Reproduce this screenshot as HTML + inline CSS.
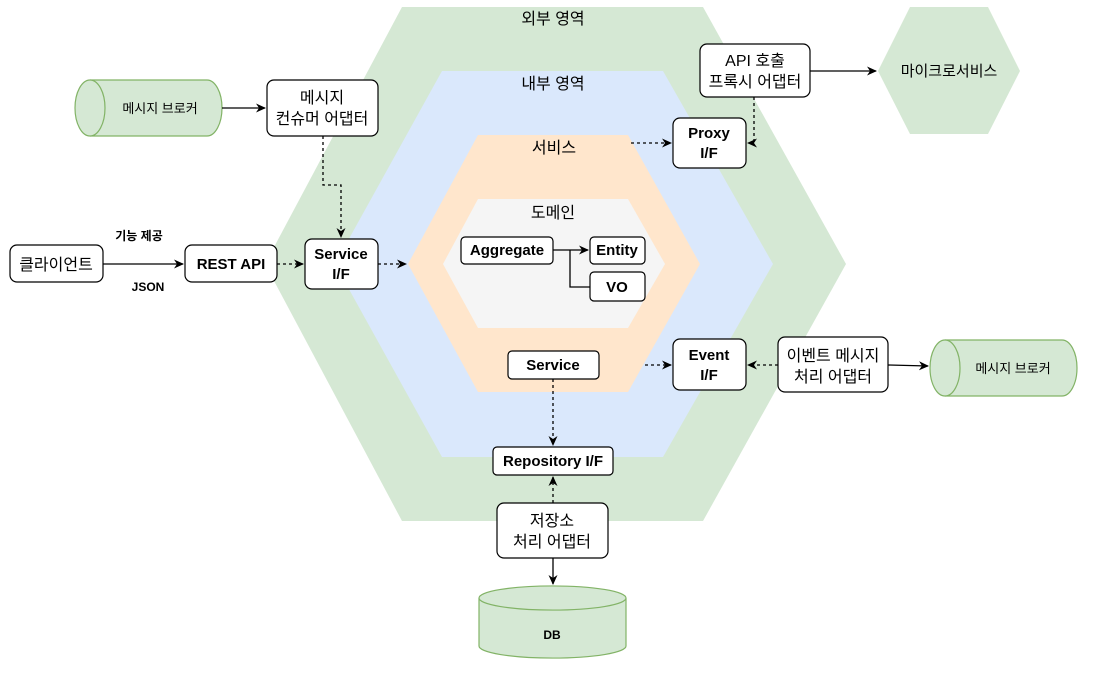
<!DOCTYPE html>
<html><head><meta charset="utf-8"><style>
html,body{margin:0;padding:0;background:#fff}
svg text{font-family:"Liberation Sans","Noto Sans CJK KR",sans-serif;fill:#000}
</style></head><body>
<svg width="1097" height="669" viewBox="0 0 1097 669" xmlns="http://www.w3.org/2000/svg">
<defs>
<marker id="a" markerWidth="12" markerHeight="12" refX="9" refY="6" orient="auto" markerUnits="userSpaceOnUse"><path d="M0,1.5 L10,6 L0,10.5 L3,6 z" fill="#000"/></marker>
</defs>
<polygon points="402,7 703,7 846,264 703,521 402,521 265,264" fill="#d5e8d4"/>
<polygon points="442,71 663,71 773,264 663,457 442,457 335,264" fill="#dae8fc"/>
<polygon points="478,135 628,135 700,264 628,392 478,392 408,264" fill="#ffe6cc"/>
<polygon points="478,199 628,199 665,264 628,328 478,328 443,264" fill="#f5f5f5"/>
<polygon points="910,7 988,7 1020,71 988,134 910,134 878,71" fill="#d5e8d4"/>
<text x="553" y="24" font-size="16" text-anchor="middle">외부 영역</text>
<text x="553" y="89" font-size="16" text-anchor="middle">내부 영역</text>
<text x="554" y="153" font-size="16" text-anchor="middle">서비스</text>
<text x="553" y="218" font-size="16" text-anchor="middle">도메인</text>
<text x="949" y="76" font-size="15" text-anchor="middle">마이크로서비스</text>

<g fill="#d5e8d4" stroke="#82b366" stroke-width="1.2">
<path d="M90,80 L207,80 A15,28 0 0 1 207,136 L90,136 A15,28 0 0 1 90,80 z"/>
<path d="M90,80 A15,28 0 0 1 90,136"/>
<path d="M945,340 L1062,340 A15,28 0 0 1 1062,396 L945,396 A15,28 0 0 1 945,340 z"/>
<path d="M945,340 A15,28 0 0 1 945,396"/>
<path d="M479,598 A73,12 0 0 1 626,598 L626,646 A73,12 0 0 1 479,646 z"/>
<path d="M479,598 A73,12 0 0 0 626,598"/>
</g>
<text x="160" y="113" font-size="13" text-anchor="middle">메시지 브로커</text>
<text x="1013" y="373" font-size="13" text-anchor="middle">메시지 브로커</text>
<text x="552" y="639" font-size="12" font-weight="bold" text-anchor="middle">DB</text>

<g fill="#fff" stroke="#000" stroke-width="1.2">
<rect x="267" y="80" width="111" height="56" rx="7"/>
<rect x="305" y="239" width="73" height="50" rx="7"/>
<rect x="185" y="245" width="92" height="37" rx="7"/>
<rect x="10" y="245" width="93" height="37" rx="7"/>
<rect x="673" y="118" width="73" height="50" rx="7"/>
<rect x="700" y="44" width="110" height="53" rx="7"/>
<rect x="461" y="237" width="92" height="27" rx="4"/>
<rect x="590" y="237" width="55" height="27" rx="4"/>
<rect x="590" y="272" width="55" height="29" rx="4"/>
<rect x="508" y="351" width="91" height="28" rx="4"/>
<rect x="673" y="339" width="73" height="51" rx="7"/>
<rect x="778" y="337" width="110" height="55" rx="7"/>
<rect x="493" y="447" width="120" height="28" rx="4"/>
<rect x="497" y="503" width="111" height="55" rx="7"/>
</g>
<g font-size="16" text-anchor="middle">
<text x="322" y="103">메시지</text><text x="322" y="124">컨슈머 어댑터</text>
<text x="56" y="270">클라이언트</text>
<text x="833" y="361">이벤트 메시지</text><text x="833" y="382">처리 어댑터</text>
<text x="552" y="526">저장소</text><text x="552" y="547">처리 어댑터</text>
<text x="755" y="66">API 호출</text><text x="755" y="87">프록시 어댑터</text>
</g>
<g font-size="15" font-weight="bold" text-anchor="middle">
<text x="341" y="259">Service</text><text x="341" y="279">I/F</text>
<text x="231" y="269">REST API</text>
<text x="709" y="138">Proxy</text><text x="709" y="158">I/F</text>
<text x="507" y="255">Aggregate</text>
<text x="617" y="255">Entity</text>
<text x="617" y="292">VO</text>
<text x="553" y="370">Service</text>
<text x="709" y="360">Event</text><text x="709" y="380">I/F</text>
<text x="553" y="466">Repository I/F</text>
</g>
<text x="139" y="240" font-size="12" text-anchor="middle" font-weight="bold">기능 제공</text>
<text x="148" y="291" font-size="12" text-anchor="middle" font-weight="bold">JSON</text>

<g fill="none" stroke="#000" stroke-width="1.3">
<path d="M222,108 L265,108" marker-end="url(#a)"/>
<path d="M103,264 L183,264" marker-end="url(#a)"/>
<path d="M810,71 L876,71" marker-end="url(#a)"/>
<path d="M553,250 L588,250" marker-end="url(#a)"/>
<path d="M570,250 L570,287 L590,287"/>
<path d="M888,365 L928,366" marker-end="url(#a)"/>
<path d="M553,558 L553,584" marker-end="url(#a)"/>
<g stroke-dasharray="3,3">
<path d="M323,136 L323,185 L341,185 L341,237" marker-end="url(#a)"/>
<path d="M277,264 L303,264" marker-end="url(#a)"/>
<path d="M378,264 L406,264" marker-end="url(#a)"/>
<path d="M631,143 L671,143" marker-end="url(#a)"/>
<path d="M754,97 L754,143 L748,143" marker-end="url(#a)"/>
<path d="M645,365 L671,365" marker-end="url(#a)"/>
<path d="M778,365 L748,365" marker-end="url(#a)"/>
<path d="M553,379 L553,445" marker-end="url(#a)"/>
<path d="M553,503 L553,477" marker-end="url(#a)"/>
</g>
</g>
</svg>
</body></html>
